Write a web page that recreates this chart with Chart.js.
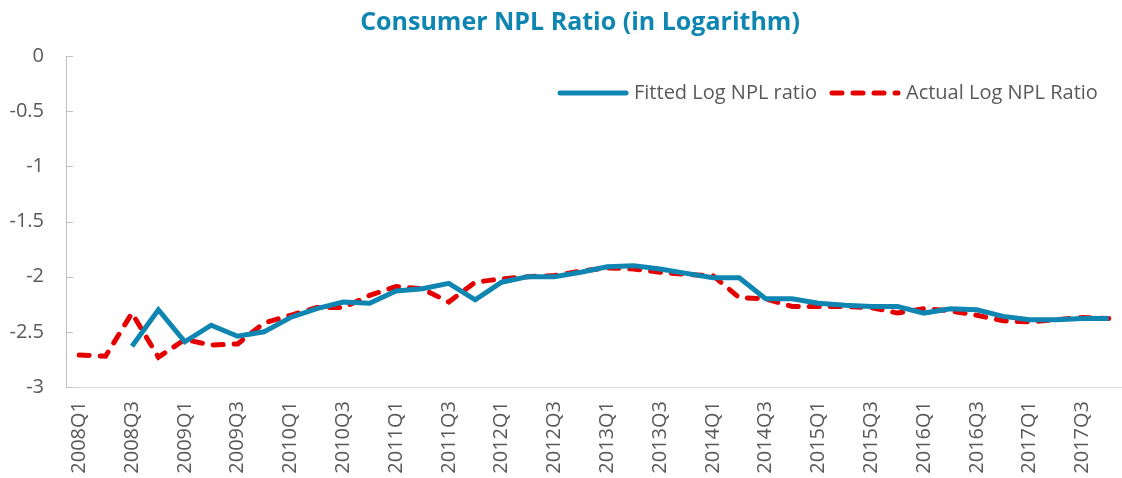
<!DOCTYPE html>
<html>
<head>
<meta charset="utf-8">
<script src="https://cdn.jsdelivr.net/npm/chart.js@4"></script>
<style>
  html, body { margin: 0; padding: 0; background: #fff; overflow: hidden; }
  #wrap { width: 1122px; height: 478px; }
</style>
</head>
<body>
<div id="wrap"><canvas id="nplChart" width="1122" height="478"></canvas></div>
<script>
/* ── Data ────────────────────────────────────────────────────────────────── */
const QUARTERS = [];
for (let y = 2008; y <= 2017; y++) {
  for (let q = 1; q <= 4; q++) QUARTERS.push(`${y}Q${q}`);
}

const fittedLog = [
  null,  null,  -2.63, -2.30, -2.59, -2.44, -2.54, -2.50,
  -2.37, -2.29, -2.23, -2.24, -2.13, -2.11, -2.06, -2.21,
  -2.05, -2.00, -2.00, -1.96, -1.91, -1.90, -1.93, -1.97,
  -2.01, -2.01, -2.20, -2.20, -2.24, -2.26, -2.27, -2.27,
  -2.33, -2.29, -2.30, -2.36, -2.39, -2.39, -2.38, -2.38
];

const actualLog = [
  -2.71, -2.72, -2.33, -2.73, -2.57, -2.62, -2.61, -2.42,
  -2.35, -2.28, -2.28, -2.17, -2.09, -2.11, -2.23, -2.05,
  -2.02, -2.00, -1.99, -1.95, -1.92, -1.93, -1.96, -1.98,
  -1.99, -2.19, -2.20, -2.27, -2.27, -2.27, -2.28, -2.33,
  -2.29, -2.31, -2.35, -2.40, -2.41, -2.39, -2.37, -2.38
];

const Y_MIN = -3;
const Y_MAX = 0;
const Y_STEP = 0.5;

/* ── Styles ──────────────────────────────────────────────────────────────── */
const FONT    = '"Open Sans", "Noto Sans", sans-serif';
const GREY    = '#595959';
const BLUE    = '#0f86b2';
const RED     = '#e50000';
const DASH    = [10, 11];

/* ── Plugins: title, inline legend, inward y ticks ───────────────────────── */
const titlePlugin = {
  id: 'titleText',
  afterDraw(chart) {
    const { ctx } = chart;
    ctx.save();
    ctx.font = `bold 25px ${FONT}`;
    ctx.fillStyle = BLUE;
    ctx.textAlign = 'center';
    ctx.textBaseline = 'middle';
    ctx.fillText('Consumer NPL Ratio (in Logarithm)', 580, 23);
    ctx.restore();
  }
};

const legendPlugin = {
  id: 'inlineLegend',
  afterDraw(chart) {
    const { ctx } = chart;
    const y = 93;
    const items = [
      { x: 558, label: 'Fitted Log NPL ratio', color: BLUE, dash: [] },
      { x: 830, label: 'Actual Log NPL Ratio', color: RED,  dash: DASH }
    ];
    ctx.save();
    ctx.font = `20px ${FONT}`;
    ctx.textBaseline = 'middle';
    items.forEach(it => {
      ctx.beginPath();
      ctx.setLineDash(it.dash);
      ctx.lineCap = 'round';
      ctx.lineWidth = 5;
      ctx.strokeStyle = it.color;
      ctx.moveTo(it.x + 2, y);
      ctx.lineTo(it.x + 68, y);
      ctx.stroke();
      ctx.setLineDash([]);
      ctx.fillStyle = GREY;
      ctx.fillText(it.label, it.x + 76, y);
    });
    ctx.restore();
  }
};

const yTickPlugin = {
  id: 'innerTicks',
  afterDraw(chart) {
    const { ctx, scales: { y }, chartArea } = chart;
    ctx.save();
    ctx.strokeStyle = '#bfbfbf';
    ctx.lineWidth = 1;
    y.ticks.forEach(t => {
      const py = Math.round(y.getPixelForValue(t.value)) + 0.5;
      ctx.beginPath();
      ctx.moveTo(chartArea.left, py);
      ctx.lineTo(chartArea.left + 7, py);
      ctx.stroke();
    });
    ctx.restore();
  }
};

/* ── Chart ───────────────────────────────────────────────────────────────── */
const ctx = document.getElementById('nplChart').getContext('2d');
new Chart(ctx, {
  type: 'line',
  data: {
    labels: QUARTERS,
    datasets: [
      {
        label: 'Fitted Log NPL ratio',
        data: fittedLog,
        borderColor: BLUE,
        borderWidth: 5,
        pointRadius: 0,
        tension: 0,
        borderJoinStyle: 'miter'
      },
      {
        label: 'Actual Log NPL Ratio',
        data: actualLog,
        borderColor: RED,
        borderWidth: 5,
        borderDash: DASH,
        borderCapStyle: 'round',
        pointRadius: 0,
        tension: 0
      }
    ]
  },
  options: {
    responsive: false,
    devicePixelRatio: 1,
    animation: false,
    layout: { padding: { top: 56, right: 0, left: 0, bottom: 0 } },
    plugins: {
      legend: { display: false },
      title: { display: false },
      tooltip: { enabled: false }
    },
    scales: {
      x: {
        offset: true,
        grid: { display: false, drawTicks: false },
        border: { display: true, color: '#d9d9d9', width: 1 },
        ticks: {
          autoSkip: false,
          minRotation: 90,
          maxRotation: 90,
          padding: 14,
          color: GREY,
          font: { family: FONT, size: 20 },
          callback: (v, i) => (i % 2 === 0 ? QUARTERS[i] : '')
        },
        afterFit: scale => {
          scale.height = 91;
          scale.paddingLeft = 0;
          scale.paddingRight = 0;
        }
      },
      y: {
        min: Y_MIN,
        max: Y_MAX,
        grid: { display: false, drawTicks: false },
        border: { display: true, color: '#bfbfbf', width: 1 },
        ticks: {
          stepSize: Y_STEP,
          padding: 22,
          color: GREY,
          font: { family: FONT, size: 20 },
          callback: v => String(v)
        },
        afterFit: scale => { scale.width = 66; }
      }
    }
  },
  plugins: [titlePlugin, legendPlugin, yTickPlugin]
});
</script>
</body>
</html>
